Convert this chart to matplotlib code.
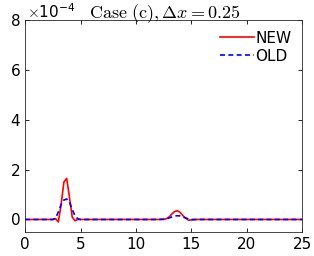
import matplotlib
matplotlib.use('Agg')
import matplotlib.pyplot as plt

plt.rcParams['mathtext.fontset'] = 'cm'
plt.rcParams['font.family'] = 'DejaVu Sans'

# values in units of 1e-4
x_new = [0, 2.5, 2.75, 3.0, 3.25, 3.5, 3.75, 4.0, 4.25, 4.5, 4.75, 5.0, 12.0, 12.5, 12.75, 13.0, 13.25, 13.5, 13.75, 14.0, 14.25, 14.5, 14.75, 15.0, 15.5, 25]
y_new = [0, 0, 0.03, -0.1, 0.6, 1.5, 1.65, 0.9, 0.1, -0.05, 0.0, 0, 0, 0, 0.03, 0.1, 0.22, 0.32, 0.35, 0.28, 0.15, 0.05, -0.03, -0.02, 0, 0]
x_old = [0, 2.5, 2.75, 3.0, 3.25, 3.5, 3.75, 4.0, 4.25, 4.5, 4.75, 5.0, 12.0, 12.75, 13.0, 13.25, 13.5, 13.75, 14.0, 14.25, 14.5, 14.75, 15.0, 25]
y_old = [0, 0, 0.05, 0.3, 0.6, 0.78, 0.82, 0.7, 0.4, 0.15, 0.03, 0, 0, 0.02, 0.06, 0.1, 0.14, 0.15, 0.14, 0.1, 0.06, 0.02, 0, 0]

fig = plt.figure(figsize=(3.14, 2.56), dpi=100)
ax = fig.add_axes([0.08, 0.094, 0.882, 0.828])
ax.plot(x_new, y_new, color='red', lw=1.2, label='NEW')
ax.plot(x_old, y_old, color='blue', lw=1.2, ls=(0, (3, 2)), label='OLD')
ax.set_xlim(0, 25)
ax.set_ylim(-0.5, 8)
ax.set_xticks([0, 5, 10, 15, 20, 25])
ax.set_yticks([0, 2, 4, 6, 8])
ax.tick_params(direction='in', labelsize=11, length=3, width=0.6, top=True, right=True)
for s in ax.spines.values():
    s.set_linewidth(0.6)
    s.set_color('#262626')
ax.legend(loc='upper right', frameon=False, fontsize=11, handlelength=2.2,
          handletextpad=0.1, borderaxespad=0.3, labelspacing=0.2)
fig.text(0.085, 0.93, r'$\times$10$^{\mathregular{-4}}$', fontsize=11, ha='left', va='baseline')
fig.text(0.525, 0.93, r'$\mathrm{Case\ (c)}, \Delta x = 0.25$', fontsize=13, ha='center', va='baseline')

fig.savefig('out.png', dpi=100)
